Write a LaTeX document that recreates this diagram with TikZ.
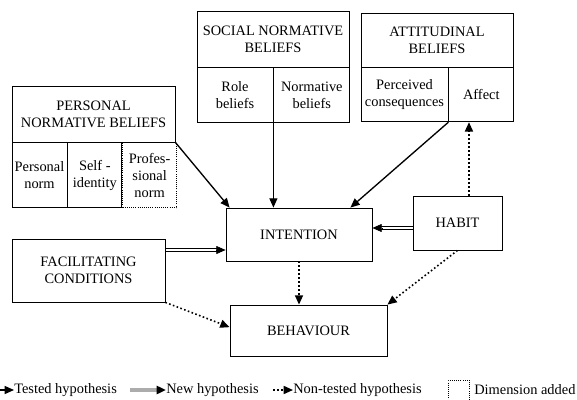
\documentclass[tikz,border=0pt]{standalone}
\usepackage{fontspec}
\setmainfont{Liberation Serif}
\usetikzlibrary{arrows.meta,positioning}

\begin{document}
\begin{tikzpicture}[
  x=0.75pt, y=-0.75pt,
  every node/.style={font=\fontsize{10.8}{12.75}\selectfont},
  box/.style={draw, line width=0.6pt, align=center, inner sep=1pt},
  cell/.style={box, anchor=north west},
  addcell/.style={cell, densely dotted},
  tested/.style={-{Triangle[length=7pt,width=6pt]}, line width=1pt},
  newhyp/.style={draw=none,
                 preaction={draw, line width=0.5pt, shorten >=6pt, transform canvas={yshift=0.9pt}},
                 postaction={draw, line width=0.5pt, shorten >=6pt, transform canvas={yshift=-0.9pt}}},
  newtip/.style={-{Triangle[length=7pt,width=6pt]}, line width=0.5pt},
  nontested/.style={-{Triangle[length=7pt,width=6pt]}, line width=1.2pt, dash pattern=on 1.2pt off 1.8pt},
  legtext/.style={anchor=west, inner sep=0pt}
]
\useasboundingbox (0,0) rectangle (577,399);

\node[box, minimum width=122.25pt, minimum height=42pt] (pnbhead) at (93.5,114) {PERSONAL\\NORMATIVE BELIEFS};
\node[cell, minimum width=41.25pt, minimum height=48.75pt] (pnorm) at (pnbhead.south west) {Personal\\norm};
\node[cell, minimum width=40.5pt, minimum height=48.75pt] (selfid) at (pnorm.north east) {Self -\\identity};
\node[addcell, minimum width=40.5pt, minimum height=48.75pt] (profnorm) at (selfid.north east) {Profes-\\sional\\norm};

\node[box, minimum width=114pt, minimum height=42pt] (snbhead) at (273,39) {SOCIAL NORMATIVE\\BELIEFS};
\node[cell, minimum width=57pt, minimum height=41.25pt] (role) at (snbhead.south west) {Role\\beliefs};
\node[cell, minimum width=57pt, minimum height=41.25pt] (normb) at (role.north east) {Normative\\beliefs};

\node[box, minimum width=114pt, minimum height=40.5pt] (abhead) at (437,40) {ATTITUDINAL\\BELIEFS};
\node[cell, minimum width=65.25pt, minimum height=40.5pt] (percons) at (abhead.south west) {Perceived\\consequences};
\node[cell, minimum width=48.75pt, minimum height=40.5pt] (affect) at (percons.north east) {Affect};

\node[box, minimum width=109.5pt, minimum height=39.75pt] (intent) at (299,234.5) {INTENTION};
\node[box, minimum width=66.75pt, minimum height=40.5pt] (habit) at (457.5,223) {HABIT};
\node[box, minimum width=114.75pt, minimum height=47.25pt] (facil) at (88.5,270.5) {FACILITATING\\CONDITIONS};
\node[box, minimum width=117.75pt, minimum height=38.25pt] (behav) at (308.5,330.5) {BEHAVIOUR};

\coordinate (habitout) at (457.5,228);
\coordinate (facilout) at (88.5,250);

\draw[tested] (pnbhead.south east) -- ([xshift=3pt]intent.north west);
\draw[tested] (role.south east) -- (role.south east |- intent.north);
\draw[tested] (percons.south east) -- ([xshift=-16.5pt]intent.north east);
\draw[nontested] ([xshift=8.6pt]habit.north) -- ([xshift=8.6pt]habit.north |- affect.south);
\draw[newhyp] (habitout -| habit.west) -- (habitout -| intent.east);
\draw[newtip] ([xshift=7pt]habitout -| intent.east) -- (habitout -| intent.east);
\draw[newhyp] (facilout -| facil.east) -- (facilout -| intent.west);
\draw[newtip] ([xshift=-7pt]facilout -| intent.west) -- (facilout -| intent.west);
\draw[nontested] (intent.south) -- (intent.south |- behav.north);
\draw[nontested] (habit.south) -- (behav.north east);
\draw[nontested] (facil.south east) -- ([yshift=2.5pt]behav.west);

\coordinate (legtestedstart) at (0,390);
\node[legtext] (legtested) at (14,390) {Tested hypothesis};
\draw[tested] (legtestedstart) -- (legtested.west);
\coordinate (legnewstart) at (130,390);
\node[legtext] (legnew) at (166,390) {New hypothesis};
\draw[-{Triangle[length=7pt,width=6pt,color=black]}, line width=3pt, gray!65] (legnewstart) -- (legnew.west);
\coordinate (legnonstart) at (273,390);
\node[legtext] (legnon) at (293,390) {Non-tested hypothesis};
\draw[nontested] (legnonstart) -- (legnon.west);
\node[addcell, minimum width=15.75pt, minimum height=16.5pt] (legdim) at (448,380) {};
\node[legtext] (legdimtext) at (474,390) {Dimension added};
\end{tikzpicture}
\end{document}
